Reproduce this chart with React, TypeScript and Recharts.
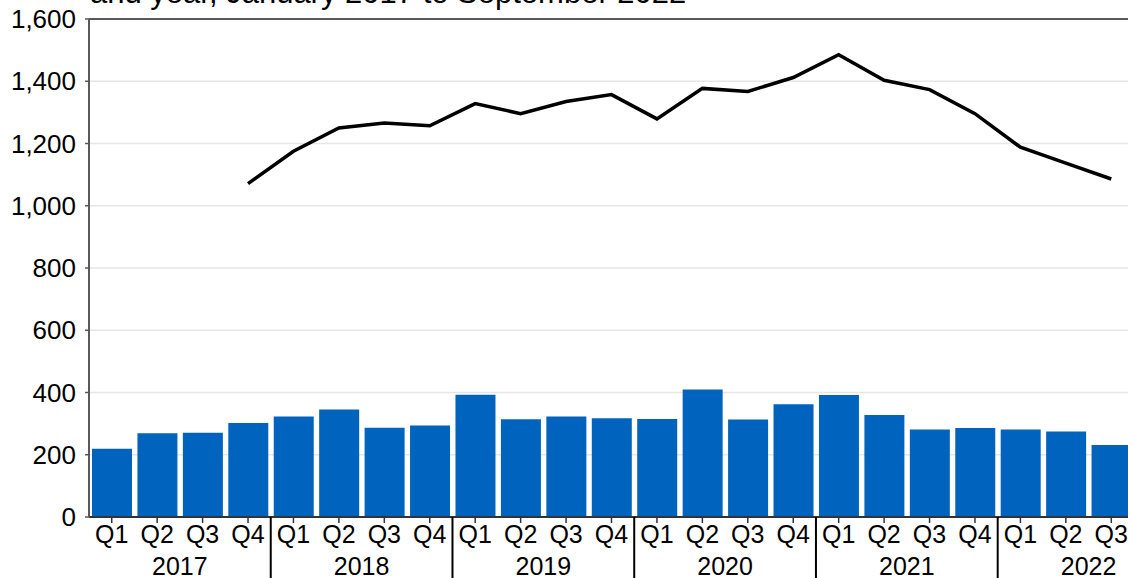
import React from 'react';
import {
  ComposedChart,
  Bar,
  Line,
  XAxis,
  YAxis,
  CartesianGrid,
  ReferenceLine,
} from 'recharts';

const periods = [
  '2017 Q1', '2017 Q2', '2017 Q3', '2017 Q4',
  '2018 Q1', '2018 Q2', '2018 Q3', '2018 Q4',
  '2019 Q1', '2019 Q2', '2019 Q3', '2019 Q4',
  '2020 Q1', '2020 Q2', '2020 Q3', '2020 Q4',
  '2021 Q1', '2021 Q2', '2021 Q3', '2021 Q4',
  '2022 Q1', '2022 Q2', '2022 Q3',
];

// quarterly counts (bars)
const quarterly = [
  219, 269, 271, 302,
  323, 345, 287, 294,
  393, 314, 323, 317,
  315, 410, 313, 362,
  392, 328, 281, 286,
  281, 275, 231,
];

// rolling year totals (line), starts once four quarters exist
const rollingYear = [
  null, null, null, 1071,
  1175, 1250, 1266, 1257,
  1328, 1296, 1335, 1357,
  1279, 1377, 1367, 1412,
  1485, 1403, 1373, 1296,
  1188, 1137, 1086,
];

const yTicks = [0, 200, 400, 600, 800, 1000, 1200, 1400, 1600];

const data = periods.map((period, i) => ({
  period,
  quarterly: quarterly[i],
  rollingYear: rollingYear[i],
}));

const FONT = '"Liberation Sans", Arial, sans-serif';
const BAR_COLOR = '#0063be';
const CHART_W = 1140;
const CHART_H = 578;
const LEFT = 89;
const RIGHT_MARGIN = 6;
const BAND = (CHART_W - LEFT - RIGHT_MARGIN) / periods.length;

const PeriodTick = (props: any) => {
  const { x, y, payload } = props;
  const [year, q] = String(payload.value).split(' ');
  return (
    <g>
      <text x={x} y={y + 20} textAnchor="middle" fontSize={25} fontFamily={FONT} fill="#000">
        {q}
      </text>
      {q === 'Q2' && (
        <text x={x + BAND / 2} y={y + 52} textAnchor="middle" fontSize={25} fontFamily={FONT} fill="#000">
          {year}
        </text>
      )}
      {q === 'Q1' && year !== '2017' && (
        <line x1={x - BAND / 2} x2={x - BAND / 2} y1={y - 6} y2={y + 60} stroke="#000" strokeWidth={2} />
      )}
    </g>
  );
};

export default function App() {
  return (
    <div
      style={{
        position: 'absolute',
        left: 0,
        top: 0,
        width: 1128,
        height: CHART_H,
        overflow: 'hidden',
        background: '#fff',
      }}
    >
      <svg width={1128} height={20} style={{ position: 'absolute', left: 0, top: 0 }}>
        <text x={90} y={3} fontSize={31} fontFamily={FONT} fill="#000">
          and year, January 2017 to September 2022
        </text>
      </svg>
      <ComposedChart
        width={CHART_W}
        height={CHART_H}
        data={data}
        margin={{ top: 19, right: RIGHT_MARGIN, bottom: 0, left: 0 }}
      >
        <CartesianGrid vertical={false} stroke="#e6e6e6" strokeWidth={1.5} />
        <XAxis
          dataKey="period"
          height={61}
          interval={0}
          tick={<PeriodTick />}
          tickSize={6}
          tickMargin={0}
          axisLine={{ stroke: '#333', strokeWidth: 2 }}
          tickLine={{ stroke: '#333', strokeWidth: 1.5 }}
        />
        <YAxis
          width={LEFT}
          domain={[0, 1600]}
          ticks={yTicks}
          interval={0}
          tickFormatter={(v: number) => v.toLocaleString('en-GB')}
          tick={{ fontSize: 26, fontFamily: FONT, fill: '#000' }}
          tickSize={4}
          tickMargin={9}
          axisLine={{ stroke: '#595959', strokeWidth: 2 }}
          tickLine={{ stroke: '#595959', strokeWidth: 1.5 }}
        />
        <ReferenceLine y={1600} stroke="#595959" strokeWidth={2} />
        <Bar dataKey="quarterly" fill={BAR_COLOR} barSize={40} isAnimationActive={false} />
        <Line
          dataKey="rollingYear"
          stroke="#000"
          strokeWidth={3.5}
          dot={false}
          type="linear"
          isAnimationActive={false}
        />
      </ComposedChart>
    </div>
  );
}
